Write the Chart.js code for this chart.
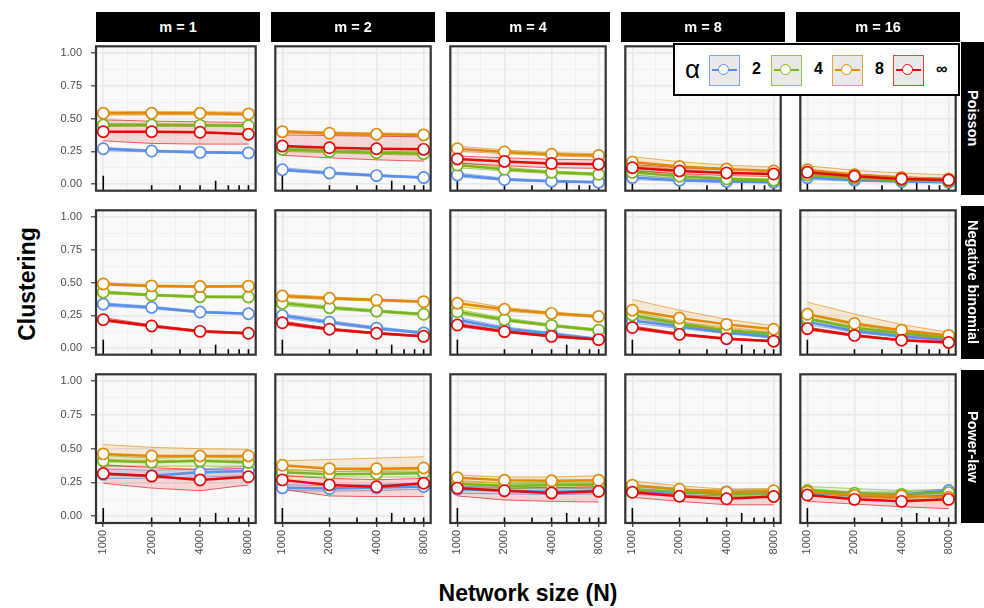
<!DOCTYPE html>
<html>
<head>
<meta charset="utf-8">
<script src="https://cdn.jsdelivr.net/npm/chart.js@4.4.1/dist/chart.umd.min.js"></script>
<style>
  body { margin: 0; background: #fff; }
  #wrap { position: relative; width: 984px; height: 608px; overflow: hidden; font-family: "Liberation Sans", Arial, sans-serif; }
  .strip { position: absolute; background: #000; color: #fff; font-weight: bold; font-size: 14.5px; display: flex; align-items: center; justify-content: center; }
  .strip.right span { writing-mode: vertical-rl; white-space: nowrap; }
  .title { position: absolute; font-weight: bold; font-size: 23px; color: #000; white-space: nowrap; }
  #legend { position: absolute; left: 673px; top: 43px; width: 283px; height: 49px; border: 2px solid #000; background: #fff; z-index: 5; }
  #legend .sym { position: absolute; top: 9px; font-size: 26px; }
  #legend .key { position: absolute; top: 10px; width: 29px; height: 29px; background: #e9e9e9; }
  #legend .key .ln { position: absolute; left: 2px; right: 2px; top: 13px; height: 2px; }
  #legend .key .pt { position: absolute; left: 8px; top: 8px; width: 9px; height: 9px; border-radius: 50%; background: #fff; }
  #legend .lab { position: absolute; top: 15px; font-size: 16px; font-weight: bold; }
</style>
</head>
<body>
<div id="wrap"></div>
<script>
const sizes = [1000, 2000, 4000, 8000];
const mLabels = ['m = 1', 'm = 2', 'm = 4', 'm = 8', 'm = 16'];
const distLabels = ['Poisson', 'Negative binomial', 'Power-law'];
const alphaLabels = ['2', '4', '8', '\u221E'];
const xMajor = [1000, 2000, 4000, 8000];
const yMajor = [0, 0.25, 0.5, 0.75, 1];

// rows of each array: m = 1, 2, 4, 8, 16; columns: N = 1000, 2000, 4000, 8000
// Poisson
const poissonA2 = [[0.27, 0.252, 0.242, 0.238], [0.11, 0.085, 0.065, 0.05], [0.07, 0.035, 0.022, 0.015], [0.05, 0.03, 0.02, 0.015], [0.05, 0.03, 0.02, 0.015]];
const poissonA2Lo = [[0.255, 0.245, 0.235, 0.232], [0.1, 0.075, 0.058, 0.044], [0.055, 0.028, 0.016, 0.01], [0.035, 0.02, 0.013, 0.01], [0.035, 0.022, 0.014, 0.01]];
const poissonA2Hi = [[0.28, 0.26, 0.25, 0.244], [0.125, 0.095, 0.073, 0.056], [0.085, 0.045, 0.03, 0.02], [0.07, 0.04, 0.028, 0.022], [0.065, 0.04, 0.027, 0.02]];
const poissonA4 = [[0.45, 0.45, 0.448, 0.445], [0.265, 0.25, 0.24, 0.232], [0.145, 0.113, 0.09, 0.075], [0.09, 0.06, 0.04, 0.03], [0.07, 0.045, 0.03, 0.022]];
const poissonA4Lo = [[0.44, 0.44, 0.44, 0.436], [0.25, 0.238, 0.228, 0.22], [0.125, 0.1, 0.08, 0.065], [0.07, 0.045, 0.03, 0.022], [0.055, 0.035, 0.022, 0.016]];
const poissonA4Hi = [[0.462, 0.46, 0.457, 0.455], [0.28, 0.262, 0.252, 0.244], [0.165, 0.128, 0.1, 0.085], [0.11, 0.075, 0.05, 0.038], [0.085, 0.055, 0.038, 0.028]];
const poissonA8 = [[0.54, 0.54, 0.54, 0.535], [0.4, 0.388, 0.38, 0.375], [0.27, 0.245, 0.228, 0.218], [0.168, 0.135, 0.115, 0.1], [0.11, 0.072, 0.05, 0.04]];
const poissonA8Lo = [[0.525, 0.527, 0.527, 0.523], [0.39, 0.378, 0.37, 0.365], [0.25, 0.232, 0.215, 0.205], [0.14, 0.11, 0.09, 0.08], [0.085, 0.055, 0.038, 0.028]];
const poissonA8Hi = [[0.555, 0.553, 0.552, 0.548], [0.41, 0.398, 0.39, 0.385], [0.29, 0.26, 0.24, 0.232], [0.21, 0.17, 0.145, 0.13], [0.14, 0.105, 0.085, 0.07]];
const poissonAinf = [[0.4, 0.4, 0.395, 0.38], [0.29, 0.277, 0.27, 0.265], [0.192, 0.173, 0.157, 0.152], [0.125, 0.1, 0.085, 0.077], [0.09, 0.06, 0.04, 0.031]];
const poissonAinfLo = [[0.33, 0.31, 0.305, 0.305], [0.22, 0.2, 0.185, 0.175], [0.16, 0.14, 0.125, 0.12], [0.1, 0.08, 0.065, 0.058], [0.07, 0.045, 0.03, 0.022]];
const poissonAinfHi = [[0.49, 0.48, 0.475, 0.47], [0.375, 0.37, 0.365, 0.36], [0.215, 0.2, 0.19, 0.185], [0.15, 0.125, 0.108, 0.1], [0.11, 0.078, 0.055, 0.045]];

// Negative binomial
const negbinA2 = [[0.335, 0.31, 0.275, 0.262], [0.248, 0.198, 0.152, 0.116], [0.217, 0.15, 0.11, 0.068], [0.21, 0.165, 0.12, 0.084], [0.2, 0.13, 0.09, 0.06]];
const negbinA2Lo = [[0.32, 0.3, 0.268, 0.256], [0.23, 0.185, 0.142, 0.108], [0.2, 0.14, 0.1, 0.06], [0.19, 0.15, 0.11, 0.075], [0.18, 0.12, 0.08, 0.053]];
const negbinA2Hi = [[0.345, 0.32, 0.282, 0.268], [0.262, 0.21, 0.162, 0.124], [0.235, 0.162, 0.12, 0.076], [0.235, 0.18, 0.13, 0.093], [0.22, 0.145, 0.1, 0.068]];
const negbinA4 = [[0.426, 0.404, 0.392, 0.39], [0.342, 0.308, 0.282, 0.258], [0.277, 0.217, 0.173, 0.137], [0.253, 0.186, 0.137, 0.108], [0.225, 0.155, 0.113, 0.077]];
const negbinA4Lo = [[0.415, 0.396, 0.385, 0.383], [0.325, 0.296, 0.272, 0.25], [0.26, 0.205, 0.163, 0.128], [0.23, 0.17, 0.125, 0.098], [0.2, 0.14, 0.1, 0.068]];
const negbinA4Hi = [[0.437, 0.412, 0.4, 0.397], [0.356, 0.32, 0.292, 0.266], [0.295, 0.23, 0.183, 0.146], [0.28, 0.2, 0.15, 0.118], [0.26, 0.175, 0.125, 0.086]];
const negbinA8 = [[0.489, 0.474, 0.469, 0.472], [0.397, 0.38, 0.366, 0.354], [0.342, 0.296, 0.265, 0.241], [0.289, 0.229, 0.181, 0.144], [0.258, 0.188, 0.137, 0.097]];
const negbinA8Lo = [[0.48, 0.466, 0.462, 0.465], [0.385, 0.37, 0.358, 0.347], [0.315, 0.282, 0.255, 0.232], [0.25, 0.2, 0.16, 0.12], [0.22, 0.16, 0.12, 0.085]];
const negbinA8Hi = [[0.498, 0.482, 0.476, 0.479], [0.41, 0.39, 0.374, 0.361], [0.37, 0.31, 0.275, 0.25], [0.37, 0.29, 0.22, 0.17], [0.35, 0.26, 0.18, 0.12]];
const negbinAinf = [[0.217, 0.169, 0.128, 0.113], [0.193, 0.144, 0.113, 0.09], [0.176, 0.126, 0.09, 0.065], [0.157, 0.105, 0.072, 0.053], [0.149, 0.097, 0.06, 0.043]];
const negbinAinfLo = [[0.205, 0.16, 0.12, 0.106], [0.18, 0.135, 0.106, 0.084], [0.165, 0.118, 0.084, 0.059], [0.145, 0.097, 0.066, 0.048], [0.138, 0.089, 0.055, 0.038]];
const negbinAinfHi = [[0.232, 0.178, 0.136, 0.12], [0.206, 0.153, 0.12, 0.096], [0.188, 0.134, 0.096, 0.071], [0.17, 0.113, 0.078, 0.058], [0.16, 0.105, 0.066, 0.048]];

// Power-law
const powerA2 = [[0.31, 0.3, 0.325, 0.335], [0.21, 0.205, 0.212, 0.22], [0.2, 0.19, 0.18, 0.19], [0.19, 0.17, 0.18, 0.18], [0.17, 0.16, 0.16, 0.19]];
const powerA2Lo = [[0.28, 0.28, 0.29, 0.3], [0.19, 0.185, 0.19, 0.2], [0.17, 0.165, 0.16, 0.165], [0.16, 0.15, 0.155, 0.16], [0.15, 0.14, 0.14, 0.16]];
const powerA2Hi = [[0.35, 0.34, 0.35, 0.37], [0.235, 0.225, 0.235, 0.245], [0.225, 0.21, 0.2, 0.21], [0.22, 0.195, 0.2, 0.2], [0.2, 0.18, 0.18, 0.2]];
const powerA4 = [[0.41, 0.4, 0.41, 0.398], [0.325, 0.31, 0.315, 0.318], [0.24, 0.225, 0.23, 0.235], [0.2, 0.18, 0.165, 0.17], [0.19, 0.17, 0.16, 0.175]];
const powerA4Lo = [[0.37, 0.37, 0.37, 0.37], [0.3, 0.29, 0.29, 0.29], [0.215, 0.205, 0.21, 0.21], [0.18, 0.16, 0.145, 0.15], [0.165, 0.15, 0.14, 0.15]];
const powerA4Hi = [[0.45, 0.43, 0.44, 0.43], [0.35, 0.33, 0.34, 0.345], [0.265, 0.245, 0.25, 0.255], [0.22, 0.2, 0.185, 0.19], [0.22, 0.205, 0.19, 0.2]];
const powerA8 = [[0.461, 0.446, 0.446, 0.446], [0.377, 0.352, 0.352, 0.357], [0.285, 0.266, 0.262, 0.266], [0.23, 0.2, 0.177, 0.189], [0.18, 0.155, 0.15, 0.14]];
const powerA8Lo = [[0.42, 0.41, 0.41, 0.41], [0.34, 0.33, 0.33, 0.33], [0.255, 0.245, 0.24, 0.245], [0.2, 0.18, 0.16, 0.17], [0.155, 0.135, 0.13, 0.12]];
const powerA8Hi = [[0.53, 0.51, 0.5, 0.495], [0.41, 0.42, 0.43, 0.44], [0.305, 0.29, 0.29, 0.3], [0.26, 0.225, 0.2, 0.205], [0.205, 0.175, 0.17, 0.165]];
const powerAinf = [[0.316, 0.297, 0.268, 0.292], [0.269, 0.232, 0.218, 0.244], [0.208, 0.189, 0.172, 0.184], [0.177, 0.148, 0.129, 0.146], [0.157, 0.125, 0.11, 0.125]];
const powerAinfLo = [[0.244, 0.208, 0.189, 0.232], [0.2, 0.15, 0.145, 0.145], [0.15, 0.12, 0.11, 0.105], [0.14, 0.11, 0.085, 0.085], [0.11, 0.09, 0.07, 0.056]];
const powerAinfHi = [[0.38, 0.36, 0.345, 0.355], [0.3, 0.28, 0.27, 0.28], [0.24, 0.22, 0.21, 0.22], [0.2, 0.175, 0.16, 0.175], [0.18, 0.15, 0.14, 0.155]];

const meanVals = [
  [poissonA2, poissonA4, poissonA8, poissonAinf],
  [negbinA2, negbinA4, negbinA8, negbinAinf],
  [powerA2, powerA4, powerA8, powerAinf]
];
const loVals = [
  [poissonA2Lo, poissonA4Lo, poissonA8Lo, poissonAinfLo],
  [negbinA2Lo, negbinA4Lo, negbinA8Lo, negbinAinfLo],
  [powerA2Lo, powerA4Lo, powerA8Lo, powerAinfLo]
];
const hiVals = [
  [poissonA2Hi, poissonA4Hi, poissonA8Hi, poissonAinfHi],
  [negbinA2Hi, negbinA4Hi, negbinA8Hi, negbinAinfHi],
  [powerA2Hi, powerA4Hi, powerA8Hi, powerAinfHi]
];

const alphaColors = ['#5b8ee6', '#7ab51d', '#e08a0b', '#e00b0b'];
const FONT = '"Liberation Sans", Arial, sans-serif';

// layout of the facet grid
const colLeft = [96, 271, 446, 621, 796];
const rowTop = [42, 206, 370];
const panelW = 164, panelH = 153;
const PAD = 3, AXIS_W = 50, AXIS_H = 50;

// grid lines: majors plus geometric / arithmetic midpoints
const xGrid = [];
xMajor.forEach((v, i) => {
  xGrid.push(v);
  if (i < xMajor.length - 1) xGrid.push(Math.sqrt(v * xMajor[i + 1]));
});
const yGrid = [];
for (let i = 0; i <= 8; i++) yGrid.push(i / 8);

function rgba(hex, a) {
  const n = parseInt(hex.slice(1), 16);
  return `rgba(${n >> 16},${(n >> 8) & 255},${n & 255},${a})`;
}

function pts(vals) {
  return sizes.map((n, i) => ({ x: n, y: vals[i] }));
}

const isMajorX = v => xMajor.indexOf(v) >= 0;
const isMajorY = v => yMajor.indexOf(v) >= 0;

function noPadding(s) {
  s.paddingTop = 0;
  s.paddingBottom = 0;
  s.paddingLeft = 0;
  s.paddingRight = 0;
}

const panelDecor = {
  id: 'panelDecor',
  beforeDraw(chart) {
    const { ctx, chartArea: a } = chart;
    ctx.save();
    ctx.fillStyle = '#f9f9f9';
    ctx.fillRect(a.left, a.top, a.right - a.left, a.bottom - a.top);
    ctx.restore();
  },
  beforeDatasetsDraw(chart) {
    // log ticks along the bottom of each panel
    const { ctx, chartArea: a } = chart;
    const x = chart.scales.x;
    ctx.save();
    ctx.strokeStyle = '#000';
    ctx.lineWidth = 1.6;
    for (let v = 1000; v <= 8000; v += 1000) {
      const lead = v / Math.pow(10, Math.floor(Math.log10(v)));
      const len = lead === 1 ? 15 : (lead === 5 ? 10 : 5.5);
      const px = x.getPixelForValue(v);
      ctx.beginPath();
      ctx.moveTo(px, a.bottom);
      ctx.lineTo(px, a.bottom - len);
      ctx.stroke();
    }
    ctx.restore();
  },
  afterDraw(chart) {
    const { ctx, chartArea: a } = chart;
    ctx.save();
    ctx.strokeStyle = '#333';
    ctx.lineWidth = 2.2;
    ctx.strokeRect(a.left, a.top, a.right - a.left, a.bottom - a.top);
    ctx.restore();
  }
};

function makePanel(r, c) {
  const wrap = document.getElementById('wrap');
  const left = c === 0 ? AXIS_W : PAD;
  const bottom = r === 2 ? AXIS_H : PAD;
  const w = panelW + left + PAD;
  const h = panelH + PAD + bottom;
  const cv = document.createElement('canvas');
  cv.width = w;
  cv.height = h;
  cv.style.cssText = `position:absolute;left:${colLeft[c] - left}px;top:${rowTop[r] - PAD}px;width:${w}px;height:${h}px`;
  wrap.appendChild(cv);

  const datasets = [];
  for (let a = 0; a < 4; a++) {
    const col = alphaColors[a];
    datasets.push({
      data: pts(loVals[r][a][c]), borderColor: rgba(col, 0.8), borderWidth: 0.8,
      pointRadius: 0, fill: false, order: 13 - a
    });
    datasets.push({
      data: pts(hiVals[r][a][c]), borderColor: rgba(col, 0.8), borderWidth: 0.8,
      pointRadius: 0, fill: '-1', backgroundColor: rgba(col, 0.15), order: 13 - a
    });
  }
  for (let a = 0; a < 4; a++) {
    const col = alphaColors[a];
    datasets.push({
      data: pts(meanVals[r][a][c]), borderColor: col, borderWidth: 2.5, fill: false,
      pointRadius: 5.6, pointBackgroundColor: '#fff', pointBorderColor: col, pointBorderWidth: 1.7,
      order: 3 - a
    });
  }

  new Chart(cv, {
    type: 'line',
    data: { datasets },
    options: {
      responsive: false,
      animation: false,
      layout: { padding: { left: c === 0 ? 0 : PAD, right: PAD, top: PAD, bottom: r === 2 ? 0 : PAD } },
      plugins: { legend: { display: false }, tooltip: { enabled: false } },
      scales: {
        x: {
          type: 'logarithmic',
          min: 1000 / Math.pow(2, 0.15),
          max: 8000 * Math.pow(2, 0.15),
          afterBuildTicks: s => { s.ticks = xGrid.map(v => ({ value: v })); },
          afterFit: s => { s.height = r === 2 ? AXIS_H : 0; noPadding(s); },
          border: { display: false },
          grid: {
            color: ctx => isMajorX(ctx.tick.value) ? '#e8e8e8' : '#f0f0f0',
            lineWidth: ctx => isMajorX(ctx.tick.value) ? 1.6 : 1,
            drawTicks: r === 2,
            tickLength: 4,
            tickWidth: 1.2,
            tickColor: ctx => isMajorX(ctx.tick.value) ? '#333' : 'rgba(0,0,0,0)'
          },
          ticks: {
            display: r === 2,
            autoSkip: false,
            minRotation: 90,
            maxRotation: 90,
            padding: 3,
            color: '#4d4d4d',
            font: { family: FONT, size: 11 },
            callback: v => isMajorX(v) ? String(v) : ''
          }
        },
        y: {
          type: 'linear',
          min: -0.05,
          max: 1.05,
          afterBuildTicks: s => { s.ticks = yGrid.map(v => ({ value: v })); },
          afterFit: s => { s.width = c === 0 ? AXIS_W : 0; noPadding(s); },
          border: { display: false },
          grid: {
            color: ctx => isMajorY(ctx.tick.value) ? '#e8e8e8' : '#f0f0f0',
            lineWidth: ctx => isMajorY(ctx.tick.value) ? 1.6 : 1,
            drawTicks: c === 0,
            tickLength: 5,
            tickWidth: 1.2,
            tickColor: ctx => isMajorY(ctx.tick.value) ? '#333' : 'rgba(0,0,0,0)'
          },
          ticks: {
            display: c === 0,
            autoSkip: false,
            padding: 9,
            color: '#4d4d4d',
            font: { family: FONT, size: 11 },
            callback: v => isMajorY(v) ? v.toFixed(2) : ''
          }
        }
      }
    },
    plugins: [panelDecor]
  });
}

function addDiv(cls, css, html) {
  const d = document.createElement('div');
  d.className = cls;
  d.style.cssText = css;
  d.innerHTML = html;
  document.getElementById('wrap').appendChild(d);
  return d;
}

function buildPage() {
  for (let r = 0; r < 3; r++) {
    for (let c = 0; c < 5; c++) makePanel(r, c);
  }
  mLabels.forEach((lab, c) => {
    addDiv('strip', `left:${colLeft[c]}px;top:12px;width:${panelW}px;height:30px`, lab);
  });
  distLabels.forEach((lab, r) => {
    addDiv('strip right', `left:961px;top:${rowTop[r]}px;width:23px;height:${panelH}px`, `<span>${lab}</span>`);
  });
  addDiv('title', 'left:27px;top:284px;transform:translate(-50%,-50%) rotate(-90deg)', 'Clustering');
  addDiv('title', 'left:528px;top:593px;transform:translate(-50%,-50%)', 'Network size (N)');

  // legend
  const lg = addDiv('', '', '');
  lg.id = 'legend';
  lg.innerHTML = '<div class="sym" style="left:10px">\u03B1</div>';
  const keyLeft = [34, 96, 157, 218];
  const labLeft = [77, 139, 200, 261];
  alphaLabels.forEach((lab, a) => {
    const col = alphaColors[a];
    lg.innerHTML +=
      `<div class="key" style="left:${keyLeft[a]}px;border:1px solid ${rgba(col, 0.75)}">` +
      `<div class="ln" style="background:${col}"></div>` +
      `<div class="pt" style="border:1.6px solid ${col}"></div></div>` +
      `<div class="lab" style="left:${labLeft[a]}px">${lab}</div>`;
  });
}

window.addEventListener('DOMContentLoaded', () => {
  buildPage();
});
</script>
</body>
</html>
